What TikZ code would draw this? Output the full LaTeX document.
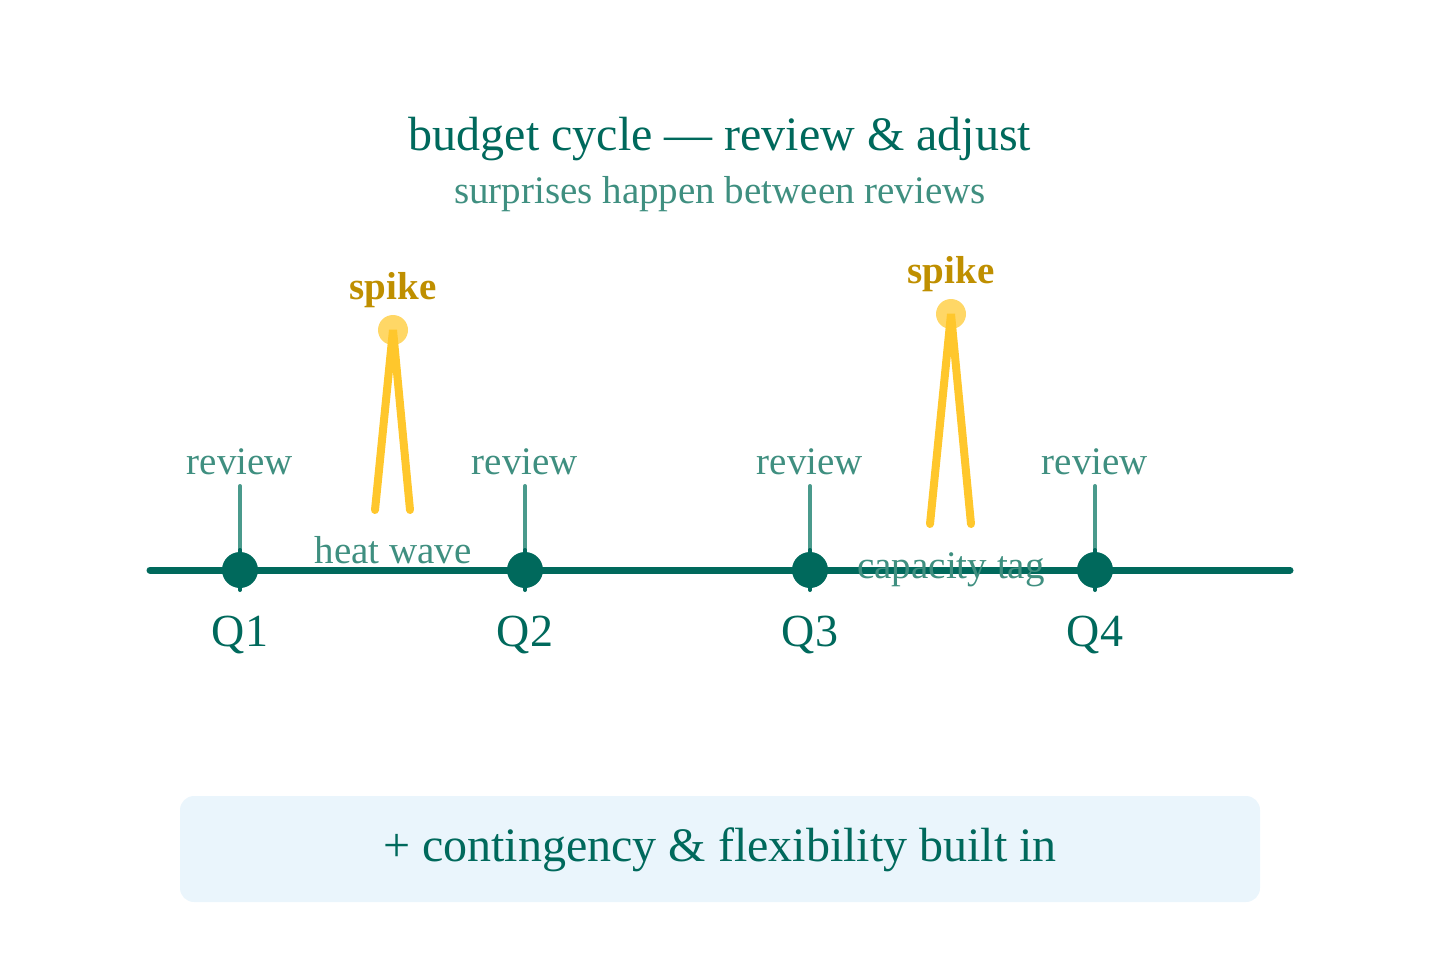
\documentclass[tikz,border=0pt]{standalone}
\usepackage{fontspec}
\setmainfont{Liberation Serif}
\definecolor{teal}{HTML}{00695C}
\definecolor{lteal}{HTML}{3F8F80}
\definecolor{tickc}{HTML}{4A9A8C}
\definecolor{gold}{HTML}{BF8F00}
\definecolor{spk}{HTML}{FFC72C}
\definecolor{spkdot}{HTML}{FFD766}
\definecolor{boxfill}{HTML}{EAF5FC}
\tikzset{
  px/.style={x=1pt,y=-1pt},
  txt/.style={inner sep=0pt,anchor=base},
  titletxt/.style={txt,text=teal,font=\fontsize{48}{56}\selectfont},
  subtxt/.style={txt,text=lteal,font=\fontsize{39}{44}\selectfont},
  revtxt/.style={txt,text=lteal,font=\fontsize{39}{44}\selectfont},
  qtxt/.style={txt,text=teal,font=\fontsize{46}{52}\selectfont},
  spiketxt/.style={txt,text=gold,font=\fontsize{39}{44}\selectfont\bfseries},
  evtxt/.style={txt,text=lteal,font=\fontsize{39}{44}\selectfont},
  qdot/.style={circle,fill=teal,minimum size=36pt,inner sep=0pt},
  tickline/.style={line width=4pt,draw=tickc,line cap=round},
  nubline/.style={line width=4pt,draw=teal,line cap=round},
  spikeline/.style={line width=8pt,draw=spk,line cap=round,line join=miter},
  spikedot/.style={circle,fill=spkdot,minimum size=30pt,inner sep=0pt},
  axis/.style={line width=7pt,draw=teal,line cap=round},
}
\begin{document}
\begin{tikzpicture}[px]
\useasboundingbox (0,0) rectangle (1440,960);
% title
\node[titletxt] (title) at (720,151) {budget cycle — review \& adjust};
\node[subtxt] (sub) at (720,204) {surprises happen between reviews};
% axis
\coordinate (axL) at (150,570);
\coordinate (axR) at (1290,570);
\draw[axis] (axL) -- (axR);
% quarters
\foreach \q/\x in {1/240,2/525,3/810,4/1095}{
  \coordinate (t\q) at (\x,486);
  \coordinate (nt\q) at (\x,550);
  \coordinate (nb\q) at (\x,590);
  \coordinate (tm\q) at (\x,560);
  \draw[tickline] (t\q) -- (tm\q);
  \draw[nubline] (nt\q) -- (nb\q);
  \node[qdot] (d\q) at (\x,570) {};
  \node[revtxt] (r\q) at (\x,474) {review};
  \node[qtxt] (q\q) at (\x,646) {Q\q};
}
% spike 1
\coordinate (s1a) at (375,510);
\coordinate (s1b) at (410,510);
\node[spikedot] (s1dot) at (393,330) {};
\draw[spikeline] (s1a) -- (s1dot.center) -- (s1b);
\node[spiketxt] (s1t) at (393,299) {spike};
\node[evtxt] (e1) at (393,563) {heat wave};
% spike 2
\coordinate (s2a) at (930,524);
\coordinate (s2b) at (971,524);
\node[spikedot] (s2dot) at (951,314) {};
\draw[spikeline] (s2a) -- (s2dot.center) -- (s2b);
\node[spiketxt] (s2t) at (951,283) {spike};
\node[evtxt] (e2) at (951,578) {capacity tag};
% bottom box
\fill[boxfill,rounded corners=14pt] (180,796) rectangle (1260,902);
\node[titletxt] (bt) at (720,861) {+ contingency \& flexibility built in};
\end{tikzpicture}
\end{document}
